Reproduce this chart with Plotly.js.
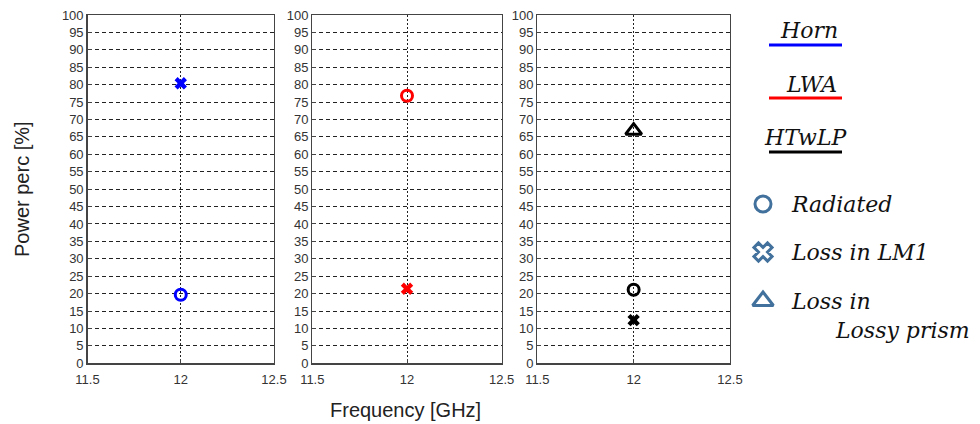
<!DOCTYPE html>
<html><head><meta charset="utf-8">
<script src="https://cdn.plot.ly/plotly-3.0.1.min.js"></script>
<style>body{margin:0;background:#fff}#chart{width:980px;height:424px}</style>
</head><body><div id="chart"></div>
<script>
// ---- data ----
const systems = ['Horn', 'LWA', 'HTwLP'];
const frequency = [12];
const radiated = [19.7, 76.8, 21.1];
const lossLM1 = [80.4, 21.4, 12.4];
const lossPrism = [null, null, 66.8];
const yTicks = [0,5,10,15,20,25,30,35,40,45,50,55,60,65,70,75,80,85,90,95,100];
const xTicks = [11.5, 12, 12.5];
const legendItems = ['Radiated', 'Loss in LM1', 'Loss in', 'Lossy prism'];

// ---- style ----
const sysColors = ['#0000ff', '#ff0000', '#000000'];
const legendColor = '#41719c';
const W = 980, H = 424;
const panelsPx = [[87.5, 274], [312.3, 501.7], [537.3, 730]];
const yTopPx = 15, yBotPx = 363.3;

const traces = [];
const layout = {
  width: W, height: H,
  margin: {l: 0, r: 0, t: 0, b: 0},
  paper_bgcolor: '#fff', plot_bgcolor: '#fff',
  showlegend: false,
  font: {family: 'Liberation Sans, Arial, sans-serif', color: '#333'},
  shapes: [], annotations: []
};

systems.forEach((s, i) => {
  const k = i === 0 ? '' : String(i + 1);
  const xa = 'x' + k, ya = 'y' + k;
  const col = sysColors[i];
  traces.push({x: frequency, y: [radiated[i]], xaxis: xa, yaxis: ya, type: 'scatter', mode: 'markers',
    name: s + ' Radiated', marker: {symbol: 'circle-open', size: 11, color: col, line: {width: 3, color: col}}});
  traces.push({x: frequency, y: [lossLM1[i]], xaxis: xa, yaxis: ya, type: 'scatter', mode: 'markers',
    name: s + ' Loss in LM1', marker: {symbol: 'x', size: 11, color: col, line: {width: 0}}});
  if (lossPrism[i] !== null) {
    traces.push({x: frequency, y: [lossPrism[i]], xaxis: xa, yaxis: ya, type: 'scatter', mode: 'markers',
      name: s + ' Loss in Lossy prism', marker: {symbol: 'triangle-up-open', size: 14, color: col, line: {width: 3, color: col}}});
  }
  const d = panelsPx[i];
  layout['xaxis' + k] = {
    domain: [d[0] / W, d[1] / W], anchor: ya, range: [11.5, 12.5],
    tickvals: xTicks, ticktext: xTicks.map(String), showgrid: true,
    gridcolor: '#222', griddash: '2px,2px', gridwidth: 1,
    showline: true, linecolor: '#444', linewidth: 1.3, mirror: true,
    ticks: 'inside', ticklen: 4, tickcolor: '#444', zeroline: false,
    ticklabelstandoff: 4,
    tickfont: {size: 13, color: '#333'}, fixedrange: true
  };
  layout['yaxis' + k] = {
    domain: [1 - yBotPx / H, 1 - yTopPx / H], anchor: xa, range: [0, 100],
    tickvals: yTicks, ticktext: yTicks.map(String), showgrid: true,
    gridcolor: '#222', griddash: '4px,3px', gridwidth: 1,
    showline: true, linecolor: '#444', linewidth: 1.3, mirror: true,
    ticks: 'inside', ticklen: 4, tickcolor: '#444', zeroline: false,
    tickfont: {size: 13, color: '#333'}, fixedrange: true
  };
});

layout.annotations.push({xref: 'paper', yref: 'paper', x: 22 / W, y: 1 - 189 / H,
  text: 'Power perc [%]', textangle: -90, showarrow: false, font: {size: 20, color: '#222'}, xanchor: 'center', yanchor: 'middle'});

layout.annotations.push({xref: 'paper', yref: 'paper', x: 405 / W, y: 1 - 410 / H,
  text: 'Frequency [GHz]', showarrow: false, font: {size: 20, color: '#222'}, xanchor: 'center', yanchor: 'middle'});

// system legend (text + coloured underline)
const sysLabelY = [30, 84, 137];
const lineY = [45, 98, 152];
const sysLabelX = [809, 811, 806];
systems.forEach((s, i) => {
  layout.annotations.push({xref: 'paper', yref: 'paper', x: sysLabelX[i] / W, y: 1 - sysLabelY[i] / H, text: '<i>' + s + '</i>',
    showarrow: false, xanchor: 'center', yanchor: 'middle',
    font: {family: 'DejaVu Serif, serif', size: 22, color: '#111'}});
  layout.shapes.push({type: 'line', xref: 'paper', yref: 'paper', x0: 769 / W, x1: 842 / W,
    y0: 1 - lineY[i] / H, y1: 1 - lineY[i] / H, line: {color: sysColors[i], width: 3}});
});

// marker legend on a hidden overlay axis
layout.xaxis4 = {domain: [740 / W, 790 / W], range: [0, 1], visible: false, fixedrange: true};
layout.yaxis4 = {domain: [0, 1], range: [H, 0], visible: false, fixedrange: true, anchor: 'x4'};
const legSym = ['circle-open', 'x-open', 'triangle-up-open'];
const legY = [204, 252, 301];
const legSize = [16, 16, 18];
legSym.forEach((sym, j) => {
  traces.push({x: [0.46], y: [legY[j]], xaxis: 'x4', yaxis: 'y4', type: 'scatter', mode: 'markers', hoverinfo: 'skip',
    marker: {symbol: sym, size: legSize[j], color: legendColor, line: {width: 3, color: legendColor}}});
});
const legTextX = [789, 789, 789, 833];
const legTextY = [204, 252, 301, 330];
legendItems.forEach((t, j) => {
  layout.annotations.push({xref: 'paper', yref: 'paper', x: legTextX[j] / W, y: 1 - legTextY[j] / H,
    text: '<i>' + t + '</i>', showarrow: false, xanchor: 'left', yanchor: 'middle',
    font: {family: 'DejaVu Serif, serif', size: 22, color: '#111'}});
});

Plotly.newPlot('chart', traces, layout, {staticPlot: true});
</script></body></html>
